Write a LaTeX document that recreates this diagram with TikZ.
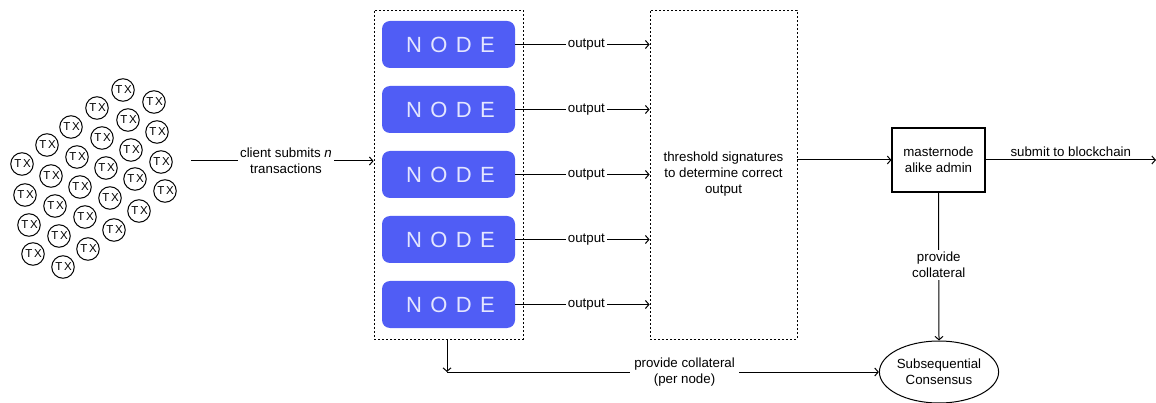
\documentclass[tikz,border=0pt]{standalone}
\usepackage{fontspec}
\setmainfont{Liberation Sans}
\newfontfamily\spacedfont[LetterSpace=38]{Liberation Sans}
\newfontfamily\txfont[LetterSpace=14]{Liberation Sans}
\usetikzlibrary{arrows.meta,shapes.geometric}
\definecolor{nodeblue}{HTML}{505DF5}
\definecolor{nodetext}{HTML}{E4E6FF}
\tikzset{
  conn/.style={line width=1pt, -{Straight Barb[length=3.5pt,width=8pt,line width=1pt]}},
  lbl/.style={fill=white, align=center, font=\fontsize{13.3}{16}\selectfont, inner sep=2pt},
  dbox/.style={draw, line width=0.8pt, dash pattern=on 2pt off 2pt, inner sep=0pt},
  nodebox/.style={fill=nodeblue, rounded corners=8pt, minimum width=133pt, minimum height=47pt,
    text=nodetext, font=\spacedfont\fontsize{22}{22}\selectfont, inner sep=0pt},
  tx/.style={circle, draw, line width=1pt, minimum size=22.5pt, inner sep=0pt,
    font=\txfont\fontsize{11.5}{11.5}\selectfont},
  admin/.style={draw, line width=1.1pt, minimum width=93pt, minimum height=64pt, align=center,
    font=\fontsize{13.3}{16}\selectfont},
  consensus/.style={ellipse, draw, line width=1pt, minimum width=118pt, minimum height=62pt,
    align=center, inner sep=0pt, font=\fontsize{13.3}{16}\selectfont}
}
\begin{document}
\begin{tikzpicture}[x=1pt,y=-1pt]
\useasboundingbox (0,0) rectangle (1156,403);

% pile of transactions
\foreach \p [count=\i] in {
  (123,90),(154,102),
  (97,108),(128,120),(157,132),
  (71,127),(102,138),(131,150),(161,162),
  (47,145),(77,157),(106,168),(135,179),(165,191),
  (22,164),(51,176),(80,187),(110,198),(139,211),
  (25,195),(55,206),(85,217),(114,230),
  (29,225),(59,236),(88,249),
  (33,254),(63,267)}
  \node[tx] (tx\i) at \p {\kern1.2pt TX};

% group of worker nodes
\node[dbox, minimum width=149pt, minimum height=329pt] (grp) at (448.5,174.5) {};
\node[nodebox] (n1) at (448.5,44.5) {\kern4pt NODE};
\node[nodebox] (n2) at (448.5,109.5) {\kern4pt NODE};
\node[nodebox] (n3) at (448.5,174.5) {\kern4pt NODE};
\node[nodebox] (n4) at (448.5,239.5) {\kern4pt NODE};
\node[nodebox] (n5) at (448.5,304.5) {\kern4pt NODE};

% threshold stage
\node[dbox, minimum width=147pt, minimum height=329pt, align=center,
  font=\fontsize{13.3}{16}\selectfont] (thr) at (723.5,174.5)
  {threshold signatures\\to determine correct\\output};

% admin and consensus
\node[admin] (adm) at (938.5,160) {masternode\\alike admin};
\node[consensus] (cons) at (939,372) {Subsequential\\Consensus};

\coordinate (cs) at (191,161);
\coordinate (bc) at (447,372);
\coordinate (chain) at (1156,160);

% connectors
\draw[conn] (cs) -- node[lbl, pos=0.52] {client submits \textit{n}\\transactions} (grp.west |- cs);
\foreach \k in {1,...,5}
  \draw[conn] (n\k.east) -- node[lbl, pos=0.53] {output} (thr.west |- n\k);
\draw[conn] (thr.east |- adm) -- (adm.west);
\draw[conn] (adm.east) -- node[above, pos=0.5, font=\fontsize{13.3}{16}\selectfont, inner sep=3pt] {submit to blockchain} (chain);
\draw[conn] (adm.south) -- node[lbl, pos=0.49] {provide\\collateral} (cons.north);
\draw[conn] (grp.south -| bc) -- (bc);
\draw[conn] (bc) -- node[lbl, pos=0.55, inner xsep=4pt] {provide collateral\\(per node)} (cons.west);
\end{tikzpicture}
\end{document}
